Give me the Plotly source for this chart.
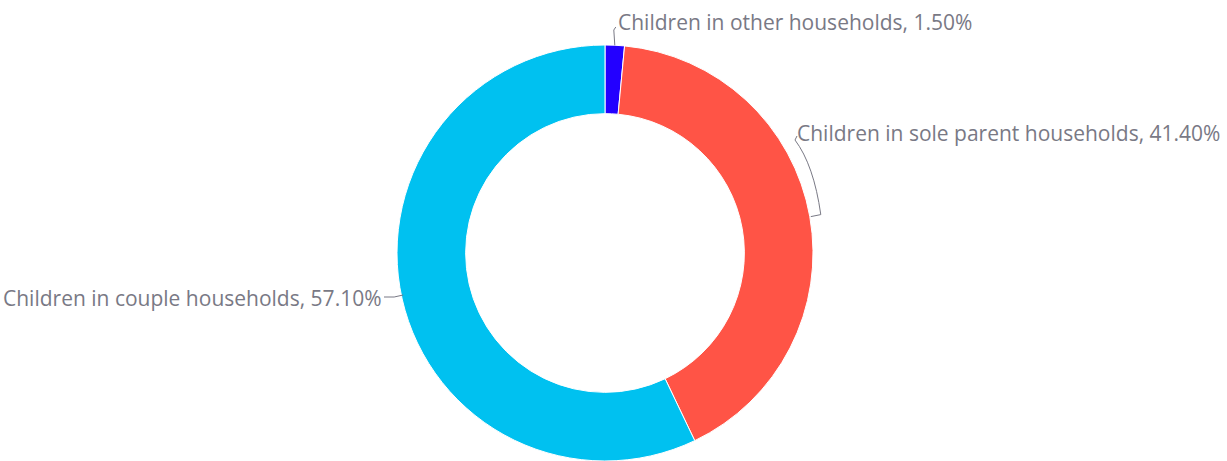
import math
import plotly.graph_objects as go

W, H = 1227, 461

categories = [
    "Children in other households",
    "Children in sole parent households",
    "Children in couple households",
]
shares = [1.50, 41.40, 57.10]
colors = ["#2300FF", "#FF5446", "#00C1F0"]

# pie geometry (pixels)
cx, r = 605, 208
cy = H - r
hole = 0.67

font = dict(family="Open Sans", size=21, color="#797985")


def px(x):
    return x / W


def py(y):
    return 1 - y / H


fig = go.Figure(
    go.Pie(
        labels=categories,
        values=shares,
        sort=False,
        direction="clockwise",
        rotation=0,
        hole=hole,
        textinfo="none",
        hoverinfo="label+percent",
        marker=dict(colors=colors, line=dict(color="white", width=1)),
        domain=dict(x=[px(cx - r), px(cx + r)], y=[0, py(cy - r)]),
        showlegend=False,
    )
)

# slice mid-points on the outer rim, clockwise from 12 o'clock
total = sum(shares)
mids = []
acc = 0.0
for v in shares:
    a = (acc + v / 2) / total * 2 * math.pi
    mids.append((cx + r * math.sin(a), cy - r * math.cos(a)))
    acc += v

line = dict(color="#797985", width=1)

# other households: short vertical connector up to the label
(x0, y0) = mids[0]
fig.add_shape(type="path", xref="paper", yref="paper", line=line,
              path=f"M{px(x0)},{py(y0)} L{px(x0 - 1)},{py(30)} L{px(x0 + 1)},{py(27)}")
fig.add_annotation(x=px(x0 + 1), y=py(22), xref="paper", yref="paper",
                   xanchor="left", yanchor="middle", showarrow=False,
                   text=f"{categories[0]}, {shares[0]:.2f}%", font=font)

# sole parent households: bracket-like connector
(x1, y1) = mids[1]
fig.add_shape(type="path", xref="paper", yref="paper", line=line,
              path=(f"M{px(x1 + 1)},{py(y1)} L{px(x1 + 11)},{py(y1 - 2)} "
                    f"Q{px(x1 + 4)},{py(165)} {px(795)},{py(140)} L{px(797)},{py(136)}"))
fig.add_annotation(x=px(795), y=py(133), xref="paper", yref="paper",
                   xanchor="left", yanchor="middle", showarrow=False,
                   text=f"{categories[1]}, {shares[1]:.2f}%", font=font)

# couple households: short horizontal connector
(x2, y2) = mids[2]
fig.add_shape(type="path", xref="paper", yref="paper", line=line,
              path=f"M{px(x2 + 1)},{py(y2 - 4)} L{px(x2 - 8)},{py(y2 - 2)} L{px(384)},{py(y2 - 2)}")
fig.add_annotation(x=px(384), y=py(298), xref="paper", yref="paper",
                   xanchor="right", yanchor="middle", showarrow=False,
                   text=f"{categories[2]}, {shares[2]:.2f}%", font=font)

fig.update_layout(
    width=W, height=H,
    margin=dict(l=0, r=0, t=0, b=0),
    paper_bgcolor="white",
    plot_bgcolor="white",
)

fig.write_html("out.html")
